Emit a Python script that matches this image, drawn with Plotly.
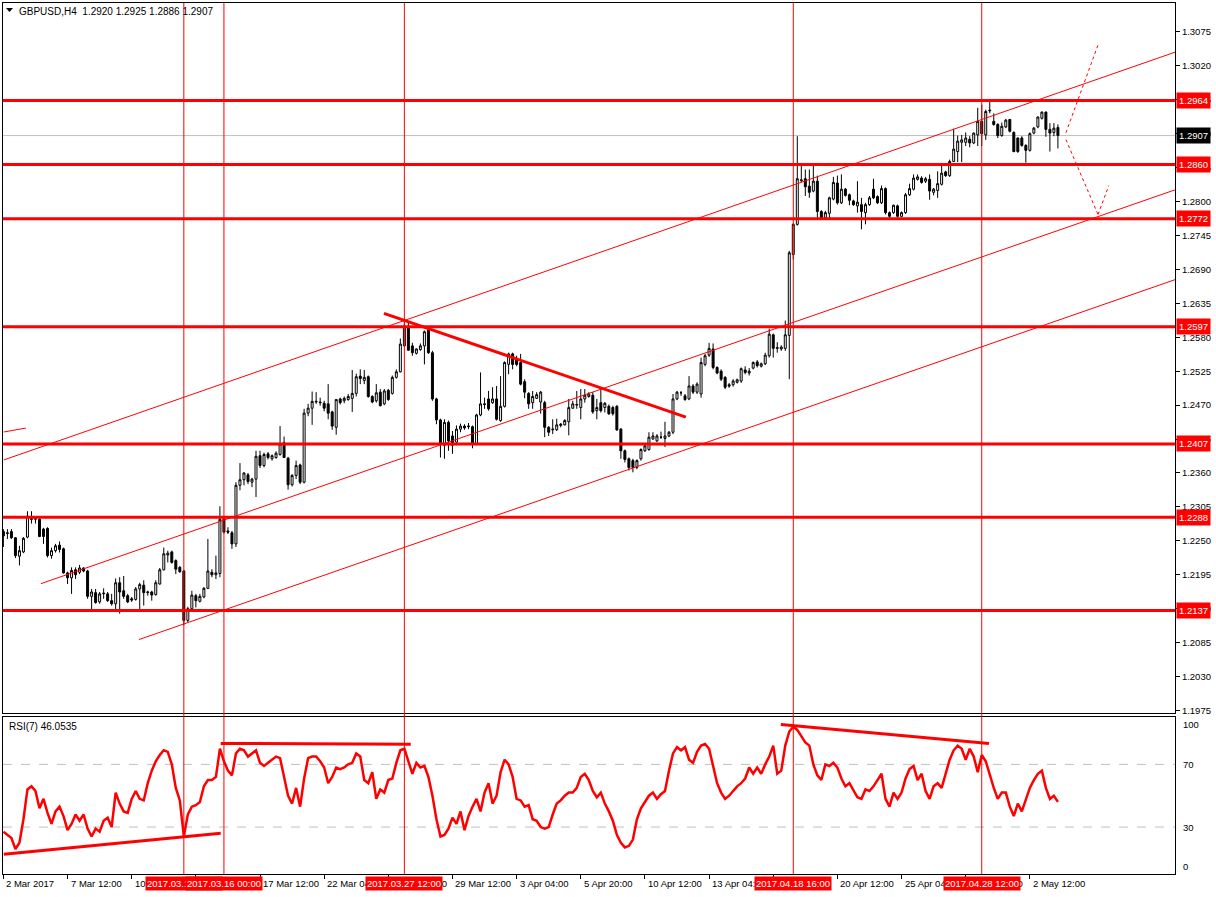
import plotly.graph_objects as go
import pandas as pd

W, H = 1216, 897

# ---------------- data ----------------
opens = [
1.2265,1.2263,1.2265,1.2255,1.2225,1.2232,1.2256,1.2286,1.2285,1.2285,
1.2269,1.2270,1.2226,1.2234,1.2243,1.2237,1.2198,1.2190,1.2203,1.2199,
1.2206,1.2201,1.2160,1.2166,1.2151,1.2164,1.2164,1.2153,1.2148,1.2182,
1.2169,1.2161,1.2156,1.2155,1.2172,1.2178,1.2166,1.2167,1.2163,1.2180,
1.2203,1.2227,1.2232,1.2218,1.2207,1.2201,1.2121,1.2140,1.2161,1.2152,
1.2159,1.2173,1.2199,1.2195,1.2197,1.2286,1.2266,1.2263,1.2245,1.2340,
1.2349,1.2357,1.2345,1.2350,1.2388,1.2372,1.2391,1.2383,1.2385,1.2390,
1.2409,1.2384,1.2341,1.2356,1.2373,1.2345,1.2457,1.2465,1.2475,1.2475,
1.2473,1.2472,1.2459,1.2434,1.2480,1.2477,1.2479,1.2481,1.2489,1.2517,
1.2510,1.2516,1.2484,1.2477,1.2491,1.2472,1.2494,1.2489,1.2515,1.2524,
1.2566,1.2597,1.2566,1.2554,1.2560,1.2566,1.2592,1.2555,1.2480,1.2446,
1.2405,1.2442,1.2420,1.2410,1.2431,1.2436,1.2435,1.2435,1.2407,1.2454,
1.2472,1.2480,1.2474,1.2480,1.2445,1.2468,1.2536,1.2553,1.2545,1.2539,
1.2508,1.2489,1.2474,1.2481,1.2475,1.2474,1.2434,1.2430,1.2430,1.2437,
1.2438,1.2443,1.2465,1.2470,1.2466,1.2480,1.2484,1.2486,1.2461,1.2474,
1.2466,1.2468,1.2466,1.2468,1.2431,1.2396,1.2383,1.2380,1.2369,1.2383,
1.2396,1.2398,1.2415,1.2412,1.2418,1.2416,1.2420,1.2426,1.2480,1.2490,
1.2485,1.2480,1.2501,1.2491,1.2488,1.2536,1.2551,1.2561,1.2531,1.2525,
1.2515,1.2503,1.2503,1.2507,1.2509,1.2527,1.2522,1.2530,1.2540,1.2533,
1.2537,1.2550,1.2584,1.2562,1.2561,1.2562,1.2583,1.2714,1.2763,1.2834,
1.2837,1.2825,1.2817,1.2833,1.2784,1.2774,1.2781,1.2804,1.2830,1.2798,
1.2820,1.2811,1.2801,1.2793,1.2795,1.2782,1.2795,1.2820,1.2808,1.2798,
1.2821,1.2782,1.2782,1.2793,1.2776,1.2782,1.2811,1.2820,1.2836,1.2838,
1.2833,1.2836,1.2815,1.2818,1.2828,1.2848,1.2842,1.2865,1.2881,1.2896,
1.2896,1.2901,1.2895,1.2908,1.2930,1.2908,1.2947,1.2930,1.2925,1.2907,
1.2921,1.2933,1.2912,1.2903,1.2903,1.2891,1.2883,1.2911,1.2921,1.2935,
1.2945,1.2917,1.2912,1.2920]

highs = [
1.2269,1.2269,1.2269,1.2256,1.2242,1.2256,1.2298,1.2298,1.2290,1.2288,
1.2271,1.2272,1.2239,1.2245,1.2249,1.2239,1.2200,1.2207,1.2207,1.2211,
1.2207,1.2203,1.2172,1.2172,1.2167,1.2173,1.2167,1.2164,1.2189,1.2191,
1.2193,1.2164,1.2159,1.2175,1.2182,1.2186,1.2169,1.2169,1.2186,1.2206,
1.2239,1.2234,1.2234,1.2220,1.2209,1.2203,1.2143,1.2169,1.2164,1.2164,
1.2175,1.2253,1.2204,1.2226,1.2306,1.2290,1.2272,1.2266,1.2345,1.2376,
1.2361,1.2360,1.2352,1.2396,1.2396,1.2393,1.2394,1.2390,1.2395,1.2436,
1.2419,1.2386,1.2358,1.2380,1.2375,1.2464,1.2472,1.2492,1.2491,1.2482,
1.2477,1.2504,1.2461,1.2480,1.2482,1.2484,1.2488,1.2527,1.2521,1.2528,
1.2527,1.2518,1.2486,1.2504,1.2496,1.2496,1.2496,1.2518,1.2528,1.2578,
1.2610,1.2606,1.2571,1.2562,1.2570,1.2591,1.2596,1.2558,1.2482,1.2448,
1.2447,1.2445,1.2428,1.2437,1.2440,1.2439,1.2441,1.2437,1.2456,1.2523,
1.2482,1.2493,1.2499,1.2501,1.2517,1.2541,1.2555,1.2555,1.2550,1.2553,
1.2512,1.2491,1.2493,1.2491,1.2493,1.2477,1.2436,1.2447,1.2448,1.2441,
1.2447,1.2480,1.2477,1.2493,1.2496,1.2496,1.2491,1.2491,1.2480,1.2497,
1.2475,1.2471,1.2469,1.2470,1.2433,1.2398,1.2385,1.2383,1.2382,1.2400,
1.2407,1.2426,1.2426,1.2423,1.2427,1.2443,1.2428,1.2488,1.2493,1.2493,
1.2488,1.2517,1.2504,1.2507,1.2547,1.2553,1.2571,1.2570,1.2533,1.2528,
1.2517,1.2506,1.2512,1.2513,1.2531,1.2533,1.2530,1.2541,1.2543,1.2539,
1.2555,1.2594,1.2586,1.2572,1.2567,1.2607,1.2720,1.2765,1.2906,1.2858,
1.2852,1.2852,1.2858,1.2842,1.2786,1.2785,1.2808,1.2840,1.2842,1.2844,
1.2822,1.2813,1.2803,1.2833,1.2806,1.2798,1.2809,1.2837,1.2810,1.2826,
1.2823,1.2784,1.2795,1.2795,1.2784,1.2814,1.2829,1.2844,1.2844,1.2841,
1.2840,1.2844,1.2822,1.2849,1.2860,1.2850,1.2868,1.2918,1.2907,1.2908,
1.2912,1.2906,1.2912,1.2952,1.2957,1.2949,1.2962,1.2943,1.2927,1.2928,
1.2934,1.2934,1.2914,1.2904,1.2906,1.2893,1.2912,1.2921,1.2938,1.2946,
1.2946,1.2927,1.2927,1.2925]

lows = [
1.2240,1.2253,1.2253,1.2222,1.2210,1.2230,1.2254,1.2278,1.2278,1.2256,
1.2245,1.2223,1.2221,1.2231,1.2231,1.2197,1.2180,1.2164,1.2188,1.2196,
1.2199,1.2156,1.2137,1.2148,1.2148,1.2156,1.2151,1.2145,1.2137,1.2132,
1.2156,1.2149,1.2151,1.2153,1.2137,1.2145,1.2161,1.2153,1.2161,1.2179,
1.2202,1.2215,1.2213,1.2196,1.2198,1.2113,1.2118,1.2137,1.2142,1.2150,
1.2157,1.2172,1.2191,1.2188,1.2191,1.2262,1.2261,1.2237,1.2240,1.2332,
1.2340,1.2342,1.2337,1.2321,1.2368,1.2369,1.2382,1.2380,1.2383,1.2388,
1.2385,1.2333,1.2338,1.2350,1.2342,1.2343,1.2452,1.2438,1.2472,1.2469,
1.2460,1.2447,1.2430,1.2422,1.2471,1.2473,1.2477,1.2459,1.2484,1.2504,
1.2504,1.2482,1.2473,1.2474,1.2468,1.2470,1.2477,1.2487,1.2513,1.2523,
1.2565,1.2558,1.2550,1.2552,1.2558,1.2536,1.2553,1.2477,1.2439,1.2385,
1.2383,1.2396,1.2391,1.2405,1.2426,1.2430,1.2431,1.2400,1.2405,1.2452,
1.2464,1.2461,1.2472,1.2445,1.2443,1.2466,1.2520,1.2528,1.2533,1.2502,
1.2481,1.2464,1.2464,1.2480,1.2456,1.2418,1.2420,1.2423,1.2428,1.2434,
1.2437,1.2421,1.2464,1.2464,1.2447,1.2474,1.2482,1.2456,1.2447,1.2458,
1.2458,1.2454,1.2453,1.2428,1.2383,1.2377,1.2364,1.2361,1.2366,1.2380,
1.2394,1.2396,1.2414,1.2410,1.2415,1.2402,1.2418,1.2423,1.2478,1.2485,
1.2477,1.2478,1.2488,1.2488,1.2482,1.2533,1.2548,1.2528,1.2520,1.2509,
1.2496,1.2498,1.2500,1.2505,1.2506,1.2520,1.2518,1.2528,1.2531,1.2531,
1.2535,1.2547,1.2547,1.2555,1.2558,1.2558,1.2512,1.2706,1.2761,1.2831,
1.2809,1.2806,1.2815,1.2771,1.2770,1.2771,1.2772,1.2802,1.2795,1.2796,
1.2808,1.2794,1.2793,1.2782,1.2755,1.2763,1.2793,1.2804,1.2796,1.2796,
1.2779,1.2771,1.2780,1.2774,1.2775,1.2780,1.2809,1.2818,1.2834,1.2829,
1.2830,1.2803,1.2810,1.2806,1.2826,1.2840,1.2840,1.2864,1.2864,1.2864,
1.2890,1.2888,1.2893,1.2890,1.2890,1.2900,1.2943,1.2923,1.2903,1.2905,
1.2919,1.2912,1.2880,1.2879,1.2889,1.2863,1.2881,1.2909,1.2919,1.2933,
1.2905,1.2881,1.2906,1.2886]

closes = [
1.2258,1.2262,1.2255,1.2226,1.2234,1.2254,1.2290,1.2285,1.2286,1.2257,
1.2257,1.2226,1.2234,1.2242,1.2236,1.2198,1.2190,1.2202,1.2195,1.2206,
1.2201,1.2160,1.2167,1.2150,1.2164,1.2165,1.2153,1.2148,1.2182,1.2167,
1.2160,1.2151,1.2154,1.2172,1.2179,1.2166,1.2167,1.2162,1.2182,1.2203,
1.2229,1.2230,1.2215,1.2204,1.2200,1.2121,1.2140,1.2162,1.2153,1.2160,
1.2173,1.2201,1.2195,1.2198,1.2285,1.2264,1.2264,1.2245,1.2340,1.2349,
1.2360,1.2346,1.2350,1.2387,1.2372,1.2390,1.2385,1.2388,1.2392,1.2407,
1.2385,1.2341,1.2356,1.2372,1.2345,1.2457,1.2465,1.2476,1.2476,1.2474,
1.2465,1.2457,1.2436,1.2479,1.2474,1.2481,1.2484,1.2489,1.2516,1.2513,
1.2515,1.2484,1.2475,1.2490,1.2469,1.2493,1.2479,1.2515,1.2524,1.2569,
1.2598,1.2559,1.2555,1.2561,1.2566,1.2589,1.2555,1.2480,1.2446,1.2407,
1.2442,1.2412,1.2405,1.2431,1.2436,1.2433,1.2436,1.2407,1.2454,1.2472,
1.2471,1.2464,1.2480,1.2447,1.2468,1.2539,1.2553,1.2536,1.2536,1.2504,
1.2491,1.2472,1.2484,1.2487,1.2491,1.2434,1.2426,1.2431,1.2438,1.2439,
1.2445,1.2466,1.2472,1.2471,1.2480,1.2486,1.2488,1.2459,1.2466,1.2461,
1.2473,1.2456,1.2456,1.2430,1.2396,1.2382,1.2369,1.2369,1.2380,1.2398,
1.2404,1.2418,1.2420,1.2420,1.2418,1.2420,1.2426,1.2480,1.2491,1.2490,
1.2479,1.2501,1.2491,1.2504,1.2539,1.2550,1.2562,1.2531,1.2522,1.2512,
1.2499,1.2501,1.2509,1.2511,1.2529,1.2523,1.2525,1.2539,1.2534,1.2537,
1.2551,1.2585,1.2562,1.2563,1.2564,1.2584,1.2717,1.2763,1.2837,1.2835,
1.2824,1.2815,1.2833,1.2784,1.2774,1.2782,1.2806,1.2831,1.2798,1.2820,
1.2810,1.2802,1.2795,1.2799,1.2784,1.2795,1.2806,1.2806,1.2798,1.2821,
1.2782,1.2776,1.2794,1.2776,1.2782,1.2811,1.2821,1.2838,1.2840,1.2831,
1.2837,1.2817,1.2820,1.2829,1.2846,1.2842,1.2865,1.2885,1.2898,1.2900,
1.2903,1.2895,1.2911,1.2930,1.2910,1.2946,1.2948,1.2925,1.2907,1.2922,
1.2932,1.2914,1.2881,1.2881,1.2891,1.2883,1.2910,1.2919,1.2937,1.2945,
1.2917,1.2911,1.2919,1.2907]

rsi = [
27,25,23,16,20,35,54,56,53,42, 48,39,32,40,43,37,28,32,38,34,
38,29,24,29,27,34,36,30,52,45, 40,39,48,53,48,47,58,66,72,76,
79,78,70,55,47,24,38,43,44,46, 56,60,60,62,80,72,66,63,77,80,
79,75,77,79,71,69,71,73,75,74, 62,50,45,55,43,61,74,75,75,72,
68,58,62,68,67,68,70,71,77,75, 60,58,65,48,54,52,60,61,71,79,
80,72,64,71,68,69,62,50,35,24, 25,29,36,32,40,28,37,43,48,40,
52,58,45,50,65,73,70,62,48,47, 43,44,35,34,30,29,30,38,45,47,
50,52,52,55,62,64,60,53,49,52, 45,40,34,25,20,17,18,22,35,42,
46,50,52,48,51,53,66,77,81,79, 81,73,71,78,82,83,80,68,58,52,
48,50,53,56,58,61,68,64,68,64, 70,75,82,64,66,82,91,94,92,88,
84,82,70,63,60,70,69,71,68,61, 56,58,53,49,48,54,53,56,60,64,
48,43,52,48,52,61,67,69,60,64, 53,48,56,58,55,64,73,79,82,80,
73,80,75,65,76,72,63,55,48,52, 52,43,37,45,40,47,55,60,64,66,
55,48,50,46.0535]

price_ticks = [1.1975, 1.2030, 1.2085, 1.2140, 1.2195, 1.2250, 1.2305, 1.2360,
               1.2415, 1.2470, 1.2525, 1.2580, 1.2635, 1.2690, 1.2745, 1.2800,
               1.2855, 1.2910, 1.2965, 1.3020, 1.3075]
levels = [1.2964, 1.2860, 1.2772, 1.2597, 1.2407, 1.2288, 1.2137]
bid = 1.2907

time_label_text = ["2 Mar 2017", "7 Mar 12:00", "10 Mar 04:00", "14 Mar 20:00",
                   "17 Mar 12:00", "22 Mar 04:00", "24 Mar 20:00", "29 Mar 12:00",
                   "3 Apr 04:00", "5 Apr 20:00", "10 Apr 12:00", "13 Apr 04:00",
                   "17 Apr 20:00", "20 Apr 12:00", "25 Apr 04:00", "27 Apr 20:00",
                   "2 May 12:00"]
time_label_at = ["2017-03-02 20:00", "2017-03-07 12:00", "2017-03-10 04:00", "2017-03-14 20:00",
                 "2017-03-17 12:00", "2017-03-22 04:00", "2017-03-24 20:00", "2017-03-29 12:00",
                 "2017-04-03 04:00", "2017-04-05 20:00", "2017-04-10 12:00", "2017-04-13 04:00",
                 "2017-04-17 20:00", "2017-04-20 12:00", "2017-04-25 04:00", "2017-04-27 20:00",
                 "2017-05-02 12:00"]
vline_at = ["2017-03-14 08:00", "2017-03-16 00:00", "2017-03-27 12:00",
            "2017-04-18 16:00", "2017-04-28 12:00"]

# trend objects: (bar position, price) pairs
channel_lines = [((0.1, 1.23811), (292.4, 1.30426)),
                 ((9.35, 1.21805), (292.4, 1.28194)),
                 ((33.8, 1.20899), (292.4, 1.26738)),
                 ((0.1, 1.24264), (5.6, 1.24328))]
triangle_line = ((94.9, 1.26188), (170.2, 1.24506))
forecast_up = [(265.0, 1.29116), (273.0, 1.30540)]
forecast_dn = [(265.0, 1.29003), (273.0, 1.27790), (275.7, 1.28259)]
rsi_lines = [((0.1, 12.7), (54.2, 26.1)),
             ((54.2, 83.4), (101.6, 82.8)),
             ((193.9, 95.5), (245.8, 83.4))]

# ---------------- build ----------------
times = [t for t in pd.date_range("2017-03-02 20:00", "2017-05-06", freq="4h")
         if t.dayofweek < 5][:len(opens)]
xs = list(range(len(opens)))
pos = {t: i for i, t in enumerate(times)}

def bar_of(s):
    return pos[pd.Timestamp(s)]

def px(x):
    return x / W

def py(y):
    return 1 - y / H

RED = "#ff0000"
FONT = "Liberation Sans"
XR = [-0.1, 292.2]

fig = go.Figure()
fig.add_trace(go.Candlestick(
    x=xs, open=opens, high=highs, low=lows, close=closes,
    increasing=dict(line=dict(color="black", width=1), fillcolor="white"),
    decreasing=dict(line=dict(color="black", width=1), fillcolor="black"),
    whiskerwidth=0, hoverinfo="skip", xaxis="x", yaxis="y"))
fig.add_trace(go.Scatter(x=xs, y=rsi, mode="lines",
                         line=dict(color=RED, width=2.5),
                         hoverinfo="skip", xaxis="x2", yaxis="y2"))

shapes = []
shapes.append(dict(type="line", xref="x domain", yref="y", x0=0, x1=1, y0=bid, y1=bid,
                   line=dict(color="#c0c0c0", width=1), layer="below"))
for lv in levels:
    shapes.append(dict(type="line", xref="x domain", yref="y", x0=0, x1=1, y0=lv, y1=lv,
                       line=dict(color=RED, width=3)))
for (a, b) in channel_lines:
    shapes.append(dict(type="line", xref="x", yref="y", x0=a[0], y0=a[1], x1=b[0], y1=b[1],
                       line=dict(color=RED, width=1)))
shapes.append(dict(type="line", xref="x", yref="y",
                   x0=triangle_line[0][0], y0=triangle_line[0][1],
                   x1=triangle_line[1][0], y1=triangle_line[1][1],
                   line=dict(color=RED, width=3)))
for path in (forecast_up, forecast_dn):
    for a, b in zip(path[:-1], path[1:]):
        shapes.append(dict(type="line", xref="x", yref="y", x0=a[0], y0=a[1], x1=b[0], y1=b[1],
                           line=dict(color=RED, width=1, dash="dot")))
for lv in (70, 30):
    shapes.append(dict(type="line", xref="x2 domain", yref="y2", x0=0, x1=1, y0=lv, y1=lv,
                       line=dict(color="#c0c0c0", width=1, dash="dash"), layer="below"))
for (a, b) in rsi_lines:
    shapes.append(dict(type="line", xref="x2", yref="y2", x0=a[0], y0=a[1], x1=b[0], y1=b[1],
                       line=dict(color=RED, width=3)))
for s in vline_at:
    b = bar_of(s)
    shapes.append(dict(type="line", xref="x", yref="paper", x0=b, x1=b,
                       y0=py(876), y1=py(3), line=dict(color=RED, width=1)))
shapes.append(dict(type="path", xref="paper", yref="paper",
                   path=f"M {px(6)},{py(8)} L {px(13)},{py(8)} L {px(9.5)},{py(12)} Z",
                   fillcolor="black", line=dict(width=0)))

ann = []
ann.append(dict(xref="paper", yref="paper", x=px(17), y=py(12), xanchor="left", yanchor="middle",
                text=f"GBPUSD,H4\u00a0\u00a0{opens[-1]:.4f} {highs[-1]:.4f} {lows[-1]:.4f} {closes[-1]:.4f}",
                showarrow=False, font=dict(family=FONT, size=10, color="black")))
ann.append(dict(xref="paper", yref="paper", x=px(7), y=py(728), xanchor="left", yanchor="middle",
                text=f"RSI(7) {rsi[-1]:.4f}", showarrow=False,
                font=dict(family=FONT, size=10, color="black")))
for lv in levels:
    ann.append(dict(xref="paper", yref="y", x=px(1176), y=lv, xanchor="left", yanchor="middle",
                    text=f"{lv:.4f}", showarrow=False, bgcolor=RED, borderpad=2,
                    font=dict(family=FONT, size=9.5, color="white")))
ann.append(dict(xref="paper", yref="y", x=px(1176), y=bid, xanchor="left", yanchor="middle",
                text=f"{bid:.4f}", showarrow=False, bgcolor="black", borderpad=2,
                font=dict(family=FONT, size=9.5, color="white")))
for v, anc in ((100, "top"), (70, "middle"), (30, "middle"), (0, "bottom")):
    ann.append(dict(xref="paper", yref="y2", x=px(1181), y=v, xanchor="left", yanchor=anc,
                    text=str(v), showarrow=False, font=dict(family=FONT, size=9.5, color="black")))
tick_pos = [bar_of(s) for s in time_label_at]
for b, t in zip(tick_pos, time_label_text):
    ann.append(dict(xref="x2", yref="paper", x=b, y=py(885), xanchor="left", yanchor="middle",
                    xshift=1, text=t, showarrow=False,
                    font=dict(family=FONT, size=9.5, color="black")))
for s in vline_at:
    ts = pd.Timestamp(s)
    ann.append(dict(xref="x2", yref="paper", x=bar_of(s), y=py(885), xanchor="center",
                    yanchor="middle", text=ts.strftime("%Y.%m.%d %H:%M"), showarrow=False,
                    bgcolor=RED, borderpad=1, font=dict(family=FONT, size=9.5, color="white")))

axis_common = dict(showline=True, mirror=True, linecolor="black", linewidth=1,
                   showgrid=False, zeroline=False, fixedrange=True)

fig.update_layout(
    width=W, height=H, margin=dict(l=0, r=0, t=0, b=0),
    paper_bgcolor="white", plot_bgcolor="white", showlegend=False, hovermode=False,
    xaxis=dict(domain=[px(3), px(1175)], range=XR, anchor="y", showticklabels=False,
               ticks="", rangeslider=dict(visible=False), **axis_common),
    yaxis=dict(domain=[py(715), py(3)], range=[1.19702, 1.31219], anchor="x", side="right",
               tickvals=price_ticks, ticktext=[f"{v:.4f}" for v in price_ticks],
               ticks="outside", ticklen=4, tickcolor="black",
               tickfont=dict(family=FONT, size=9.5, color="black"), **axis_common),
    xaxis2=dict(domain=[px(3), px(1175)], range=XR, anchor="y2", tickvals=tick_pos,
                ticks="outside", ticklen=4, tickcolor="black", showticklabels=False,
                rangeslider=dict(visible=False), **axis_common),
    yaxis2=dict(domain=[py(876), py(719)], range=[0, 100], anchor="x2", side="right",
                showticklabels=False, ticks="", **axis_common),
    shapes=shapes, annotations=ann,
)

fig.write_html("out.html", config={"displayModeBar": False},
               post_script="document.body.style.margin='0';document.body.style.overflow='hidden';")
